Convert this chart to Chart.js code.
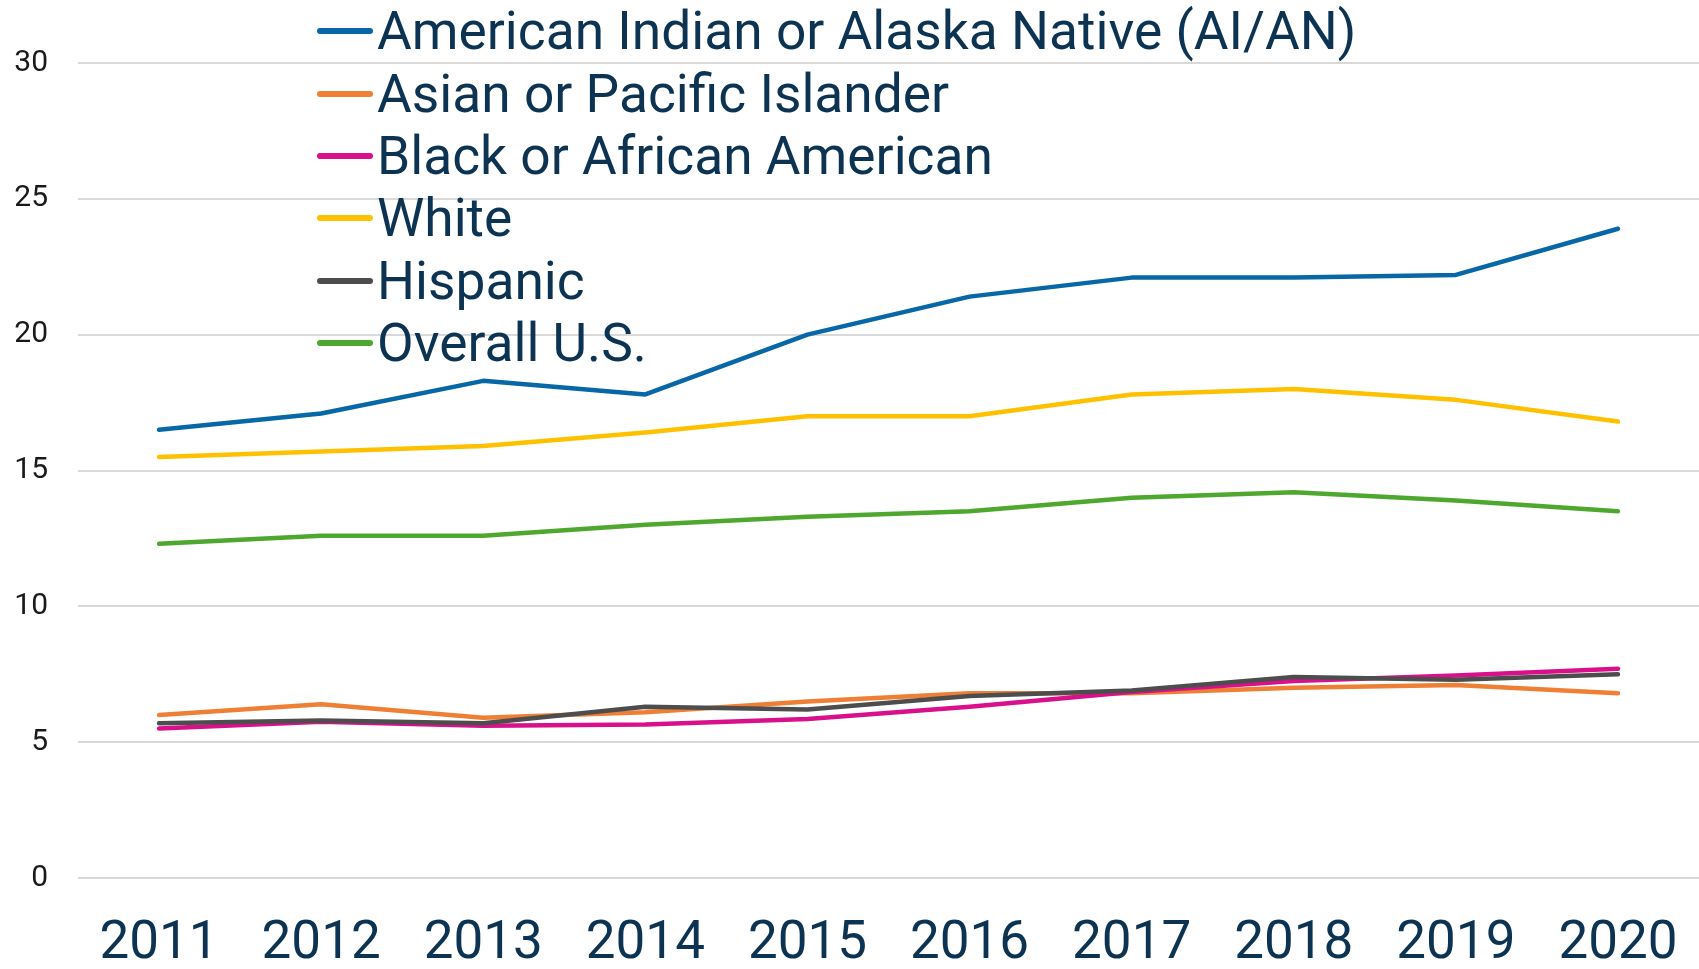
<!DOCTYPE html>
<html>
<head>
<meta charset="utf-8">
<script src="https://cdn.jsdelivr.net/npm/chart.js@4/dist/chart.umd.min.js"></script>
<style>
  html, body { margin: 0; padding: 0; background: #fff; overflow: hidden; }
  #wrap { position: relative; width: 1699px; height: 969px; }
  #chart { display: block; }
  #legend {
    position: absolute; left: 317px; top: 0px;
    font-family: Roboto, sans-serif; font-size: 53.3px; color: #0d3353;
  }
  .item { display: flex; align-items: center; height: 62.4px; white-space: nowrap; }
  .swatch { width: 56px; height: 6px; border-radius: 3px; margin-right: 4px; }
</style>
</head>
<body>
<div id="wrap">
  <canvas id="chart" width="1699" height="969"></canvas>
  <div id="legend"></div>
</div>
<script>
const years = ["2011", "2012", "2013", "2014", "2015", "2016", "2017", "2018", "2019", "2020"];
const seriesNames = [
  "American Indian or Alaska Native (AI/AN)",
  "Asian or Pacific Islander",
  "Black or African American",
  "White",
  "Hispanic",
  "Overall U.S."
];
const aian     = [16.5, 17.1, 18.3, 17.8, 20.0, 21.4, 22.1, 22.1, 22.2, 23.9];
const asian    = [6.0, 6.4, 5.9, 6.1, 6.5, 6.8, 6.8, 7.0, 7.1, 6.8];
const black    = [5.5, 5.75, 5.6, 5.65, 5.85, 6.3, 6.85, 7.25, 7.45, 7.7];
const white    = [15.5, 15.7, 15.9, 16.4, 17.0, 17.0, 17.8, 18.0, 17.6, 16.8];
const hispanic = [5.7, 5.8, 5.7, 6.3, 6.2, 6.7, 6.9, 7.4, 7.3, 7.5];
const overall  = [12.3, 12.6, 12.6, 13.0, 13.3, 13.5, 14.0, 14.2, 13.9, 13.5];
const yTicks   = [0, 5, 10, 15, 20, 25, 30];

const colors = ["#0767a7", "#ee7f34", "#d90f8b", "#ffc000", "#4d4d4d", "#4ea72e"];
const values = [aian, asian, black, white, hispanic, overall];

// draw order: lower lines first so that the overlaps look like the reference
const drawOrder = [5, 3, 0, 1, 2, 4];

const datasets = seriesNames.map((name, i) => ({
  label: name,
  data: values[i],
  borderColor: colors[i],
  backgroundColor: colors[i],
  borderWidth: 4.5,
  borderCapStyle: "round",
  borderJoinStyle: "round",
  pointRadius: 0,
  tension: 0,
  fill: false,
  order: drawOrder.length - drawOrder.indexOf(i)
}));

// legend as html
const legend = document.getElementById("legend");
seriesNames.forEach((name, i) => {
  const row = document.createElement("div");
  row.className = "item";
  const sw = document.createElement("span");
  sw.className = "swatch";
  sw.style.background = colors[i];
  const txt = document.createElement("span");
  txt.textContent = name;
  row.appendChild(sw);
  row.appendChild(txt);
  legend.appendChild(row);
});

new Chart(document.getElementById("chart"), {
  type: "line",
  data: { labels: years, datasets },
  options: {
    responsive: false,
    animation: false,
    layout: { padding: { top: 63, right: 0, left: 0, bottom: 0 } },
    plugins: { legend: { display: false }, tooltip: { enabled: false } },
    scales: {
      x: {
        offset: true,
        grid: { display: false, drawTicks: false },
        border: { display: false },
        ticks: {
          color: "#0d3353",
          font: { family: "Roboto", size: 53 },
          padding: 35,
          maxRotation: 0,
          autoSkip: false
        },
        afterFit: (scale) => {
          scale.height = 91;
          scale.paddingLeft = 0;
          scale.paddingRight = 0;
        }
      },
      y: {
        min: 0,
        max: 30,
        afterBuildTicks: (scale) => { scale.ticks = yTicks.map((v) => ({ value: v })); },
        grid: { color: "#d9d9d9", lineWidth: 2, drawTicks: false },
        border: { display: false },
        ticks: {
          color: "#1a1a1a",
          font: { family: "Roboto", size: 30 },
          padding: 30
        },
        afterFit: (scale) => { scale.width = 78; }
      }
    }
  }
});
</script>
</body>
</html>
